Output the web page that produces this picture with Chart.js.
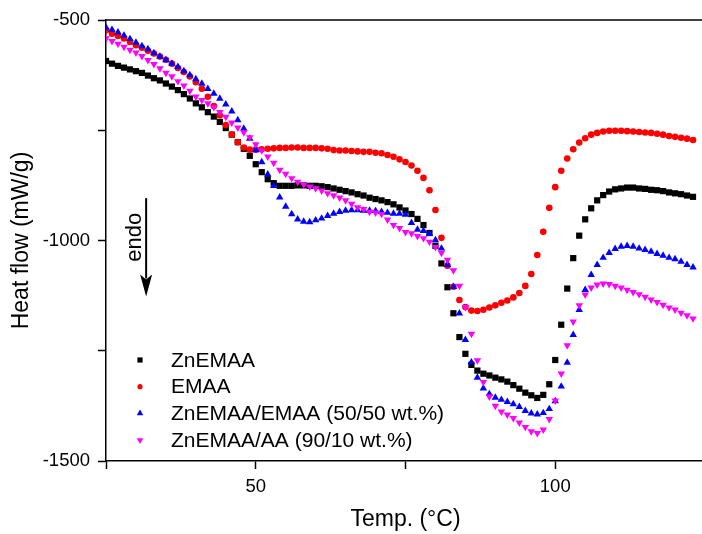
<!DOCTYPE html>
<html>
<head>
<meta charset="utf-8">
<script src="https://cdn.jsdelivr.net/npm/chart.js@4.4.1/dist/chart.umd.min.js"></script>
<style>
  html, body { margin: 0; padding: 0; background: #fff; overflow: hidden; }
  canvas { display: block; }
</style>
</head>
<body>
<canvas id="dsc" width="712" height="534"></canvas>
<script>
// DSC heating scans, one reading per degree
const FONT = 'Arial, "Liberation Sans", sans-serif';

const tempC = [
  25, 26, 27, 28, 29, 30, 31, 32, 33, 34, 35, 36, 37, 38, 39, 40, 41, 42, 43, 44,
  45, 46, 47, 48, 49, 50, 51, 52, 53, 54, 55, 56, 57, 58, 59, 60, 61, 62, 63, 64,
  65, 66, 67, 68, 69, 70, 71, 72, 73, 74, 75, 76, 77, 78, 79, 80, 81, 82, 83, 84,
  85, 86, 87, 88, 89, 90, 91, 92, 93, 94, 95, 96, 97, 98, 99, 100, 101, 102, 103, 104,
  105, 106, 107, 108, 109, 110, 111, 112, 113, 114, 115, 116, 117, 118, 119, 120, 121, 122, 123
];

const znEmaa = [
  -593, -599, -604, -608, -612, -616, -620, -626, -632, -637, -644, -651, -659, -668, -678, -689, -698, -709, -719, -731,
  -745, -760, -777, -792, -808, -827, -845, -861, -870, -876, -876, -876, -875, -875, -876, -876, -877, -879, -882, -885,
  -888, -891, -895, -898, -903, -906, -909, -913, -918, -925, -932, -940, -951, -965, -983, -1012, -1052, -1106, -1165, -1219,
  -1257, -1282, -1295, -1302, -1306, -1311, -1315, -1320, -1328, -1336, -1345, -1351, -1357, -1350, -1326, -1271, -1191, -1109, -1040, -989,
  -952, -927, -909, -897, -889, -884, -882, -880, -880, -882, -883, -885, -886, -888, -891, -893, -895, -898, -901
];

const emaa = [
  -523, -531, -536, -542, -550, -557, -563, -570, -576, -583, -590, -599, -609, -618, -628, -641, -656, -674, -695, -716,
  -738, -760, -777, -789, -794, -794, -793, -792, -791, -790, -790, -789, -789, -790, -790, -790, -791, -792, -795, -796,
  -796, -797, -798, -799, -799, -801, -802, -806, -810, -816, -822, -830, -842, -858, -886, -931, -994, -1057, -1105, -1135,
  -1151, -1159, -1160, -1157, -1152, -1147, -1141, -1136, -1129, -1119, -1103, -1076, -1033, -980, -926, -879, -842, -814, -793, -778,
  -768, -760, -756, -753, -751, -751, -751, -752, -753, -754, -755, -756, -758, -760, -763, -765, -767, -769, -772
];

const blend5050 = [
  -517, -522, -528, -535, -543, -551, -559, -566, -575, -583, -591, -599, -606, -616, -625, -634, -644, -656, -667, -678,
  -691, -707, -727, -746, -769, -795, -822, -850, -876, -902, -923, -940, -952, -957, -958, -954, -950, -944, -939, -935,
  -932, -931, -931, -932, -932, -933, -935, -937, -939, -939, -941, -960, -975, -978, -985, -999, -1018, -1055, -1105, -1165,
  -1225, -1276, -1311, -1335, -1348, -1356, -1361, -1366, -1371, -1377, -1386, -1392, -1394, -1391, -1382, -1364, -1331, -1277, -1214, -1157,
  -1112, -1078, -1055, -1039, -1028, -1019, -1014, -1012, -1014, -1018, -1021, -1025, -1030, -1034, -1039, -1042, -1048, -1055, -1061
];

const blendAA = [
  -542, -548, -554, -561, -568, -574, -582, -591, -600, -610, -620, -628, -639, -649, -661, -674, -682, -689, -698, -709,
  -720, -733, -744, -755, -766, -782, -796, -810, -824, -840, -849, -859, -867, -873, -878, -882, -887, -893, -898, -903,
  -909, -917, -925, -929, -935, -937, -940, -953, -965, -972, -981, -984, -990, -995, -1003, -1015, -1028, -1044, -1068, -1103,
  -1151, -1212, -1272, -1321, -1354, -1375, -1388, -1395, -1403, -1413, -1423, -1433, -1437, -1429, -1405, -1363, -1302, -1238, -1184, -1147,
  -1123, -1107, -1100, -1098, -1099, -1103, -1107, -1112, -1117, -1122, -1128, -1134, -1140, -1146, -1152, -1157, -1164, -1170, -1177
];

const seriesNames = ['ZnEMAA', 'EMAA', 'ZnEMAA/EMAA (50/50 wt.%)', 'ZnEMAA/AA (90/10 wt.%)'];
const seriesColors = ['#000000', '#ff0000', '#0000ff', '#ff00ff'];

const xTicks = [25, 50, 75, 100, 125];
const xLabels = [50, 100];
const yTicks = [-1500, -1250, -1000, -750, -500];
const yLabels = [-1500, -1000, -500];

// "endo" arrow, in data units
const endoX = 31.7, endoTop = -904, endoTip = -1127;

const toPoints = vals => vals.map((v, i) => ({ x: tempC[i], y: v }));

function series(i, vals, style, radius, rotation) {
  return {
    label: seriesNames[i],
    data: toPoints(vals),
    showLine: false,
    pointStyle: style,
    pointRotation: rotation || 0,
    pointRadius: radius,
    pointHoverRadius: radius,
    pointBorderWidth: 0,
    backgroundColor: seriesColors[i],
    borderColor: seriesColors[i],
    order: 3 - i
  };
}

// small marker used in the legend box
function marker(ctx, style, x, y, r) {
  ctx.beginPath();
  if (style === 'rect') {
    ctx.rect(x - r, y - r, 2 * r, 2 * r);
  } else if (style === 'circle') {
    ctx.arc(x, y, r, 0, Math.PI * 2);
  } else if (style === 'up') {
    ctx.moveTo(x, y - r);
    ctx.lineTo(x + r * 0.866, y + r * 0.5);
    ctx.lineTo(x - r * 0.866, y + r * 0.5);
  } else {
    ctx.moveTo(x, y + r);
    ctx.lineTo(x + r * 0.866, y - r * 0.5);
    ctx.lineTo(x - r * 0.866, y - r * 0.5);
  }
  ctx.closePath();
  ctx.fill();
}

const decorations = {
  id: 'decorations',
  afterDraw(chart) {
    const { ctx, chartArea, scales } = chart;
    ctx.save();

    // top frame line
    ctx.strokeStyle = '#000';
    ctx.lineWidth = 1.5;
    ctx.beginPath();
    ctx.moveTo(chartArea.left, chartArea.top);
    ctx.lineTo(chartArea.right, chartArea.top);
    ctx.stroke();

    // legend
    const styles = ['rect', 'circle', 'up', 'down'];
    const sizes = [2.6, 2.6, 3.8, 3.8];
    ctx.font = '21px ' + FONT;
    ctx.textBaseline = 'middle';
    ctx.textAlign = 'left';
    seriesNames.forEach((name, i) => {
      const y = 360 + i * 26.7;
      ctx.fillStyle = seriesColors[i];
      marker(ctx, styles[i], 140, y, sizes[i]);
      ctx.fillStyle = '#000';
      ctx.fillText(name, 171, y + 1);
    });

    // endo arrow
    const ax = scales.x.getPixelForValue(endoX);
    const ay0 = scales.y.getPixelForValue(endoTop);
    const ay1 = scales.y.getPixelForValue(endoTip);
    ctx.strokeStyle = '#000';
    ctx.fillStyle = '#000';
    ctx.lineWidth = 2;
    ctx.beginPath();
    ctx.moveTo(ax, ay0);
    ctx.lineTo(ax, ay1 - 18);
    ctx.stroke();
    ctx.beginPath();
    ctx.moveTo(ax, ay1);
    ctx.lineTo(ax - 6, ay1 - 22);
    ctx.lineTo(ax, ay1 - 17);
    ctx.lineTo(ax + 6, ay1 - 22);
    ctx.closePath();
    ctx.fill();

    ctx.translate(ax - 11, (ay0 + ay1) / 2 - 10);
    ctx.rotate(-Math.PI / 2);
    ctx.font = '22px ' + FONT;
    ctx.textAlign = 'center';
    ctx.textBaseline = 'middle';
    ctx.fillText('endo', 0, 0);
    ctx.restore();
  }
};

const axisCommon = {
  type: 'linear',
  grid: {
    display: true,
    drawOnChartArea: false,
    drawTicks: true,
    tickLength: 8,
    tickWidth: 1.5,
    tickColor: '#000'
  },
  border: { display: true, color: '#000', width: 1.5 }
};

new Chart(document.getElementById('dsc'), {
  type: 'scatter',
  data: {
    datasets: [
      series(0, znEmaa, 'rect', 4.4),
      series(1, emaa, 'circle', 3.3),
      series(2, blend5050, 'triangle', 4.3),
      series(3, blendAA, 'triangle', 4.3, 180)
    ]
  },
  options: {
    responsive: false,
    animation: false,
    devicePixelRatio: 1,
    layout: { padding: { top: 20, left: 0, right: 0, bottom: 0 } },
    plugins: {
      legend: { display: false },
      tooltip: { enabled: false }
    },
    scales: {
      x: {
        ...axisCommon,
        position: 'bottom',
        min: 25,
        max: 125,
        afterBuildTicks: s => { s.ticks = xTicks.map(v => ({ value: v })); },
        afterFit: s => { s.height = 73; },
        ticks: {
          autoSkip: false,
          maxRotation: 0,
          padding: 7,
          color: '#000',
          font: { family: FONT, size: 18.5 },
          callback: v => (xLabels.includes(v) ? String(v) : '')
        },
        title: {
          display: true,
          text: 'Temp. (°C)',
          color: '#000',
          font: { family: FONT, size: 23 },
          padding: { top: 0, bottom: 1 }
        }
      },
      y: {
        ...axisCommon,
        position: 'left',
        min: -1500,
        max: -500,
        afterBuildTicks: s => { s.ticks = yTicks.map(v => ({ value: v })); },
        afterFit: s => { s.width = 106; },
        ticks: {
          autoSkip: false,
          padding: 8,
          color: '#000',
          font: { family: FONT, size: 18.5 },
          callback: v => (yLabels.includes(v) ? String(v) : '')
        },
        title: {
          display: true,
          text: 'Heat flow (mW/g)',
          color: '#000',
          font: { family: FONT, size: 23 },
          padding: { top: 8, bottom: 0 }
        }
      }
    }
  },
  plugins: [decorations]
});
</script>
</body>
</html>
